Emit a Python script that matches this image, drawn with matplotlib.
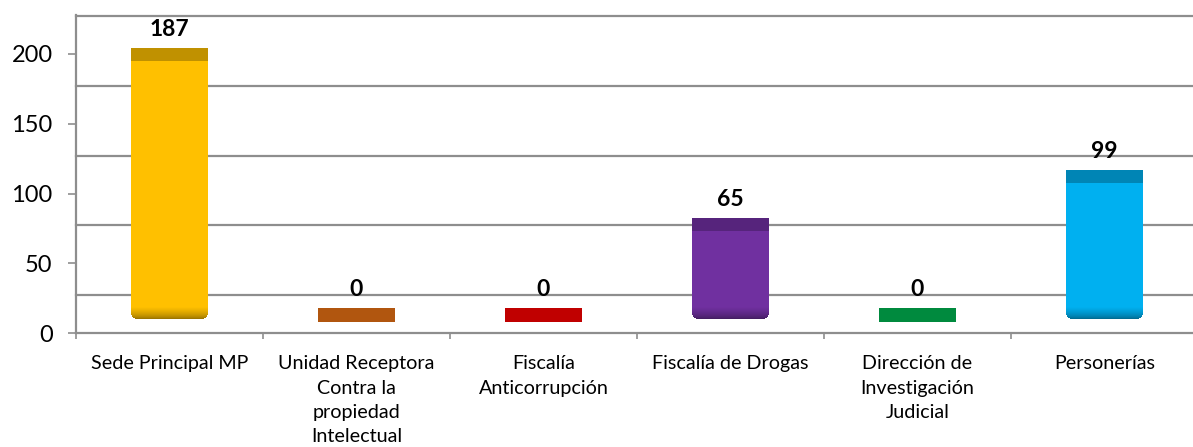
import numpy as np
import matplotlib
matplotlib.use("Agg")
import matplotlib.pyplot as plt
from matplotlib import colors as mcolors

# data
categories = ["Sede Principal MP",
              "Unidad Receptora\nContra la\npropiedad\nIntelectual",
              "Fiscalía\nAnticorrupción",
              "Fiscalía de Drogas",
              "Dirección de\nInvestigación\nJudicial",
              "Personerías"]
values = [187, 0, 0, 65, 0, 99]
y_ticks = [0, 50, 100, 150, 200]

body_colors = ["#FFC000", "#B1560F", "#C00000", "#7030A0", "#008A3E", "#00B0F0"]
top_colors = ["#C09100", "#B1560F", "#C00000", "#56247C", "#008A3E", "#0085B5"]

plt.rcParams["font.family"] = ["Lato", "DejaVu Sans"]

# layout (pixels of the 1193x447 canvas)
W, H = 1193, 447
PX = 1.395                     # pixels per data unit
left_px, right_px = 76, 1198
top_px, axis_px = 15, 333
wall_px, floor_px = 295, 315   # back-wall zero line, cylinder base
band = 4.7                     # half height of the cylinder top face
bar_w = 0.41
grid_col = "#8E8E8E"

fig = plt.figure(figsize=(W / 100, H / 100), dpi=100)
rect = [left_px / W, 1 - axis_px / H, (right_px - left_px) / W, (axis_px - top_px) / H]
span = (axis_px - top_px) / PX

axg = fig.add_axes(rect)   # back wall grid
ax = fig.add_axes(rect)    # front axis
axb = fig.add_axes(rect)   # cylinders
for a in (axg, ax, axb):
    a.set_xlim(-0.5, len(categories) - 0.5)
ax.patch.set_visible(False)
axb.patch.set_visible(False)

# back wall gridlines
g0 = -(axis_px - wall_px) / PX
axg.set_ylim(g0, g0 + span)
for t in y_ticks:
    axg.axhline(t, color=grid_col, lw=1.6, clip_on=False)
axg.axis("off")

# front axis
ax.set_ylim(0, span)
ax.set_yticks(y_ticks)
ax.tick_params(axis="y", length=5.8, width=1.2, color=grid_col, pad=11, labelsize=17)
ax.set_xticks(range(len(categories)))
ax.set_xticklabels(categories, fontsize=14.2, linespacing=1.53, va="top")
ax.set_xticks(np.arange(-0.5, len(categories)), minor=True)
ax.tick_params(axis="x", which="major", length=0, pad=16)
ax.tick_params(axis="x", which="minor", length=4, width=1.2, color=grid_col)
for s in ("top", "right"):
    ax.spines[s].set_visible(False)
for s in ("left", "bottom"):
    ax.spines[s].set_color(grid_col)
    ax.spines[s].set_linewidth(1.6)

# cylinders
b0 = -(axis_px - floor_px) / PX
axb.set_ylim(b0, b0 + span)
axb.axis("off")

base_bot = -3.0
shade_top = 5.5
n_sl = 12
rad_px = 6.0
sl_h = (shade_top - base_bot) / n_sl
for i, v in enumerate(values):
    if v == 0:
        axb.bar(i, 2 * band, bottom=-band, width=bar_w, color=top_colors[i], lw=0)
    else:
        body = np.array(mcolors.to_rgb(body_colors[i]))
        axb.bar(i, v - band - shade_top, bottom=shade_top, width=bar_w,
                color=body, lw=0)
        # darker rounded base
        for k in range(n_sl):
            frac = (k + 0.5) / n_sl          # 0 at bottom
            dark = 0.55 + 0.45 * frac ** 0.6
            d_px = frac * (shade_top - base_bot) * PX
            inset = 0.0
            if d_px < rad_px:
                inset = rad_px - np.sqrt(rad_px ** 2 - (rad_px - d_px) ** 2)
            axb.bar(i, sl_h * 1.05, bottom=base_bot + k * sl_h,
                    width=bar_w - 2 * inset / 187, color=body * dark, lw=0)
        axb.bar(i, 2 * band, bottom=v - band, width=bar_w, color=top_colors[i], lw=0)
    axb.annotate(str(v), (i, v), xytext=(0, 18), textcoords="offset points",
                 ha="center", va="center", fontsize=16.5, fontweight="bold")

fig.savefig("out.png", dpi=100)
